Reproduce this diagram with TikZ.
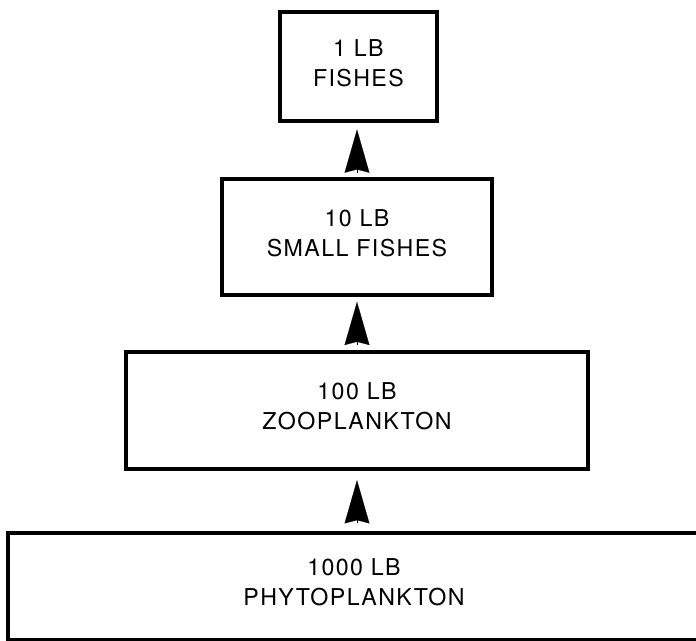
\documentclass[tikz,border=0pt]{standalone}
\usepackage{fontspec}
\newfontfamily\boxfont{TeX Gyre Heros}[LetterSpace=6]
\usetikzlibrary{arrows.meta}

\begin{document}
\begin{tikzpicture}[
    level/.style={draw, line width=2.5pt, outer sep=0pt, inner sep=0pt,
                  align=center, text depth=0.2cm,
                  font=\boxfont\fontsize{16.5}{21.3}\selectfont},
    arr/.style={-{Stealth[length=1.08cm, width=0.62cm, inset=0.08cm]},
                line width=0.1pt},
]
\useasboundingbox (0,0) rectangle (17.4,16.025);

% Four levels of the pyramid, widest at the bottom
\node[level, minimum width=3.925cm, minimum height=2.725cm] (fish) at (8.96, 14.36)
    {1 LB\\FISHES};
\node[level, minimum width=6.75cm, minimum height=2.9cm] (small) at (8.925, 10.1)
    {10 LB\\SMALL FISHES};
\node[level, minimum width=11.55cm, minimum height=2.925cm] (zoo) at (8.925, 5.7625)
    {100 LB\\ZOOPLANKTON};
\node[level, minimum width=17.3cm, minimum height=2.675cm] (phyto) at (8.85, 1.3625)
    {1000 LB\\PHYTOPLANKTON};

% Arrowheads between the levels
\draw[arr, shorten >=0.21cm, shorten <=0.16cm] (small.north) -- (small.north |- fish.south);
\draw[arr, shorten >=0.17cm, shorten <=0.175cm] (zoo.north) -- (zoo.north |- small.south);
\draw[arr, shorten >=0.28cm, shorten <=0.24cm] (zoo.south |- phyto.north) -- (zoo.south);

\end{tikzpicture}
\end{document}
